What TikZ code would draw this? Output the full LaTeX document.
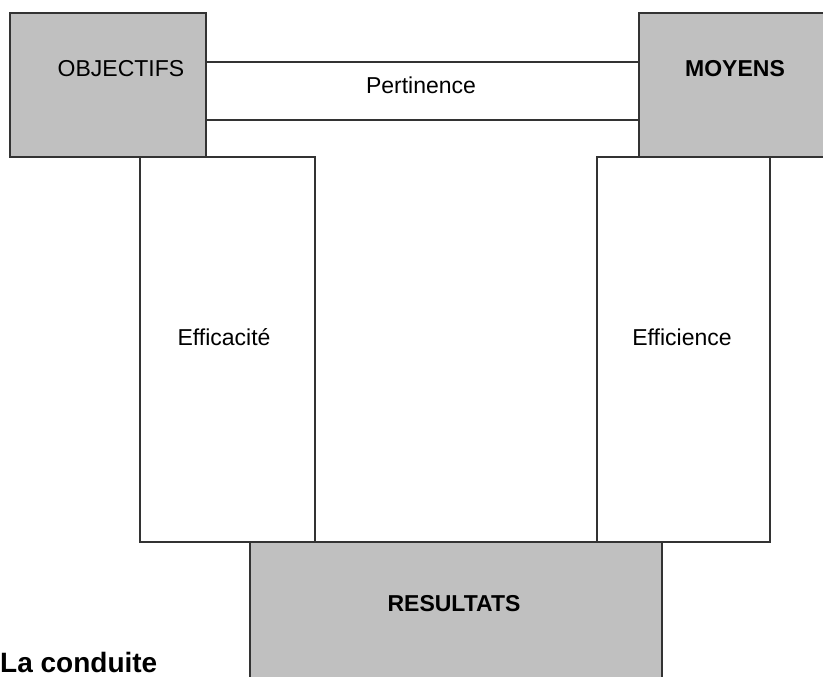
\documentclass[tikz,border=0pt]{standalone}
\usepackage{fontspec}
\setmainfont{Liberation Sans}
\definecolor{boxgray}{HTML}{C0C0C0}
\definecolor{edge}{HTML}{333333}
\begin{document}
\begin{tikzpicture}[x=1pt,y=-1pt,
  box/.style={draw=edge, line width=1.4pt, anchor=north west, inner sep=0pt, outer sep=0pt},
  graybox/.style={box, fill=boxgray},
  whitebox/.style={box, fill=white},
  lbl/.style={anchor=base, inner sep=0pt, font=\fontsize{23}{27}\selectfont},
  blbl/.style={lbl, font=\fontsize{23}{27}\selectfont\bfseries},
  link/.style={draw=edge, line width=1.4pt}]
\clip (0,0) rectangle (823,677);
\fill[white] (0,0) rectangle (823,677);
% boxes
\node[whitebox, minimum width=175pt, minimum height=385pt] (eff) at (140,157) {};
\node[whitebox, minimum width=173pt, minimum height=385pt] (effi) at (597,157) {};
\node[graybox, minimum width=196pt, minimum height=144pt] (obj) at (10,13) {};
\node[graybox, minimum width=195pt, minimum height=144pt] (moy) at (639,13) {};
\node[graybox, minimum width=412pt, minimum height=150pt] (res) at (250,542) {};
% Pertinence band
\coordinate (ptop) at (0,62);
\coordinate (pbot) at (0,120);
\draw[link] (obj.east |- ptop) -- (moy.west |- ptop);
\draw[link] (obj.east |- pbot) -- (moy.west |- pbot);
% labels
\node[lbl] (tobj) at (121,77) {OBJECTIFS};
\node[blbl] (tmoy) at (735,77) {MOYENS};
\node[lbl] (tpert) at (421,94) {Pertinence};
\node[lbl] (teff) at (224,345) {Efficacité};
\node[lbl] (teffi) at (682,345) {Efficience};
\node[blbl] (tres) at (454,611) {RESULTATS};
\node[anchor=base west, inner sep=0pt, font=\fontsize{28}{32}\selectfont\bfseries] (cond) at (0,672) {La conduite};
\end{tikzpicture}
\end{document}
